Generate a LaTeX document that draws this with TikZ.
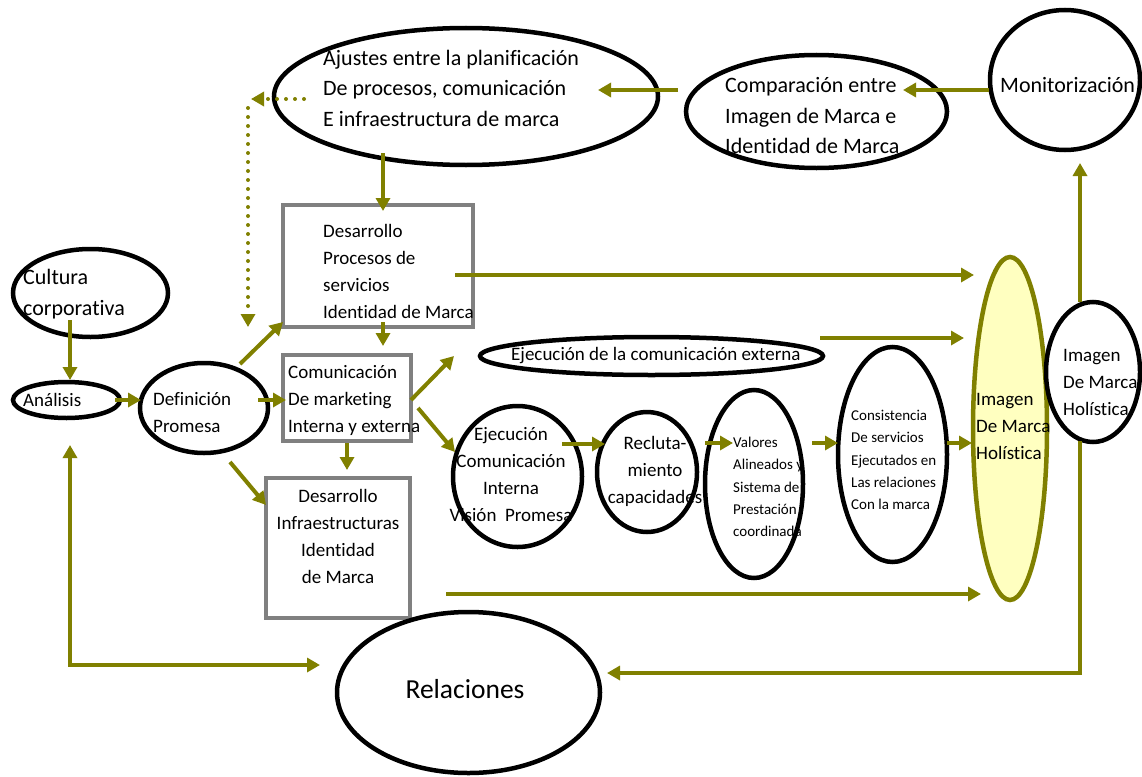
\documentclass[tikz,border=0pt]{standalone}
\usepackage{fontspec}
\setmainfont{Carlito}[Ligatures=NoCommon]
\usetikzlibrary{shapes.geometric,arrows.meta}
\definecolor{olivearrow}{RGB}{128,128,0}
\definecolor{boxgray}{RGB}{128,128,128}
\definecolor{paleyellow}{RGB}{255,255,192}

\begin{document}
\begin{tikzpicture}[x=1pt,y=-1pt,
  oval/.style={draw=black, line width=4.5pt, ellipse, inner sep=0pt},
  frame/.style={draw=boxgray, line width=4pt, rectangle, inner sep=0pt},
  txtL/.style={font=\fontsize{22}{30.5}\selectfont, align=left, inner sep=0pt, anchor=west},
  txtM/.style={font=\fontsize{19}{27}\selectfont, align=left, inner sep=0pt, anchor=west},
  txtS/.style={font=\fontsize{15}{22.4}\selectfont, align=left, inner sep=0pt, anchor=west},
  flow/.style={draw=olivearrow, line width=4pt, -{Triangle[length=13pt,width=14pt]}},
  dotflow/.style={draw=olivearrow, line width=4pt, line cap=round, dash pattern=on 0pt off 9pt,
                  -{Triangle[length=13pt,width=14pt]}},
  twoway/.style={draw=olivearrow, line width=4pt, {Triangle[length=13pt,width=14pt]}-{Triangle[length=13pt,width=14pt]}},
]
\useasboundingbox (0,0) rectangle (1142,776);

% ---------- shapes ----------
\node[oval, minimum width=384pt, minimum height=137pt] (ajustes) at (466,96.5) {};
\node[oval, minimum width=261pt, minimum height=113pt] (comp) at (816.5,111.5) {};
\node[oval, minimum width=150pt, minimum height=140pt] (monit) at (1065,80) {};
\node[frame, minimum width=190pt, minimum height=122pt] (procesos) at (378,266) {};
\node[frame, minimum width=128pt, minimum height=86pt] (comunic) at (347,398) {};
\node[frame, minimum width=144pt, minimum height=140pt] (infra) at (338,548) {};
\node[oval, minimum width=155pt, minimum height=88pt] (cultura) at (90.5,293) {};
\node[oval, minimum width=107pt, minimum height=36pt] (analisis) at (66.5,400) {};
\node[oval, minimum width=128pt, minimum height=90pt] (definicion) at (204,408) {};
\node[oval, minimum width=343pt, minimum height=38pt] (externa) at (651.5,356) {};
\node[oval, minimum width=129pt, minimum height=141pt] (interna) at (517.5,476.5) {};
\node[oval, minimum width=100pt, minimum height=120pt] (reclut) at (647,472) {};
\node[oval, minimum width=98pt, minimum height=188pt] (valores) at (754,484) {};
\node[oval, minimum width=109pt, minimum height=215pt] (consist) at (892.5,454.5) {};
\node[oval, draw=olivearrow, fill=paleyellow, minimum width=74pt, minimum height=343pt] (holistica) at (1010,428.5) {};
\node[oval, minimum width=94pt, minimum height=140pt] (imagen) at (1093,372) {};
\node[oval, minimum width=263pt, minimum height=161pt] (relaciones) at (468.5,692.5) {};

% ---------- connector end points ----------
\coordinate (mA) at (989,90);   \coordinate (mB) at (903,90);
\coordinate (cA) at (678,90);   \coordinate (cB) at (598,90);
\coordinate (dA) at (304,99);   \coordinate (dB) at (251,99);
\coordinate (dC) at (248,108);  \coordinate (dD) at (248,327);
\coordinate (aA) at (383,153);  \coordinate (aB) at (383,211);
\coordinate (pA) at (383,322);  \coordinate (pB) at (383,346);
\coordinate (kA) at (347,443);  \coordinate (kB) at (347,470);
\coordinate (uA) at (70,320);   \coordinate (uB) at (70,380);
\coordinate (nA) at (115,400);  \coordinate (nB) at (141,400);
\coordinate (fA) at (258,400);  \coordinate (fB) at (286,400);
\coordinate (fC) at (240,364);  \coordinate (fD) at (283,322);
\coordinate (fE) at (230,462);  \coordinate (fF) at (266,505);
\coordinate (gA) at (411,400);  \coordinate (gB) at (454,356);
\coordinate (gC) at (418,408);  \coordinate (gD) at (455,452);
\coordinate (eA) at (562,444);  \coordinate (eB) at (605,444);
\coordinate (rA) at (705,443);  \coordinate (rB) at (733,443);
\coordinate (vA) at (812,443);  \coordinate (vB) at (838,443);
\coordinate (sA) at (947,443);  \coordinate (sB) at (972,443);
\coordinate (hA) at (455,275);  \coordinate (hB) at (974,275);
\coordinate (xA) at (820,338);  \coordinate (xB) at (964,338);
\coordinate (iA) at (446,594);  \coordinate (iB) at (981,594);
\coordinate (tA) at (1080,302); \coordinate (tB) at (1080,163);
\coordinate (bA) at (1080,441); \coordinate (bC) at (1080,673); \coordinate (bB) at (607,673);
\coordinate (lA) at (70,445);   \coordinate (lC) at (70,665);   \coordinate (lB) at (320,665);

% ---------- connectors ----------
\draw[flow] (mA) -- (mB);
\draw[flow] (cA) -- (cB);
\draw[dotflow] (dA) -- (dB);
\draw[dotflow] (dC) -- (dD);
\draw[flow] (aA) -- (aB);
\draw[flow] (pA) -- (pB);
\draw[flow] (kA) -- (kB);
\draw[flow] (uA) -- (uB);
\draw[flow] (nA) -- (nB);
\draw[flow] (fA) -- (fB);
\draw[flow] (fC) -- (fD);
\draw[flow] (fE) -- (fF);
\draw[flow] (gA) -- (gB);
\draw[flow] (gC) -- (gD);
\draw[flow] (eA) -- (eB);
\draw[flow] (rA) -- (rB);
\draw[flow] (vA) -- (vB);
\draw[flow] (sA) -- (sB);
\draw[flow] (hA) -- (hB);
\draw[flow] (xA) -- (xB);
\draw[flow] (iA) -- (iB);
\draw[flow] (tA) -- (tB);
\draw[flow] (bA) -- (bC) -- (bB);
\draw[twoway] (lA) -- (lC) -- (lB);

% ---------- texts ----------
\node[txtL] (tAjustes) at (323,88) {Ajustes entre la planificación\\De procesos, comunicación\\E infraestructura de marca};
\node[txtL] (tComp) at (725,116) {Comparación entre\\Imagen de Marca e\\Identidad de Marca};
\node[txtL] (tMonit) at (1000,85) {Monitorización};
\node[txtM] (tProc) at (323,271.5) {Desarrollo\\Procesos de\\servicios\\Identidad de Marca};
\node[txtM] (tCom) at (288,400) {Comunicación\\De marketing\\Interna y externa};
\node[txtM, align=center, anchor=center] (tInfra) at (338,536.5) {Desarrollo\\Infraestructuras\\Identidad\\de Marca};
\node[txtL] (tCult) at (23,294) {Cultura\\corporativa};
\node[txtM] (tAnal) at (23,400) {Análisis};
\node[txtM] (tDef) at (153,413) {Definición\\Promesa};
\node[txtM] (tExt) at (511,356) {Ejecución de la comunicación externa};
\node[txtM, align=center, anchor=center] (tEjec) at (511,475) {Ejecución\\Comunicación\\Interna\\Visión~~Promesa};
\node[txtM, align=center, anchor=center] (tRecl) at (655,471) {Recluta-\\miento\\capacidades};
\node[txtS] (tVal) at (733,487) {Valores\\Alineados y\\Sistema de\\Prestación\\coordinada};
\node[txtS] (tCons) at (851,460) {Consistencia\\De servicios\\Ejecutados en\\Las relaciones\\Con la marca};
\node[txtM] (tYel) at (976,426) {Imagen\\De Marca\\Holística};
\node[txtM] (tImg) at (1063,382) {Imagen\\De Marca\\Holística};
\node[font=\fontsize{27.5}{33}\selectfont, inner sep=0pt] (tRel) at (465,689) {Relaciones};
\end{tikzpicture}
\end{document}
